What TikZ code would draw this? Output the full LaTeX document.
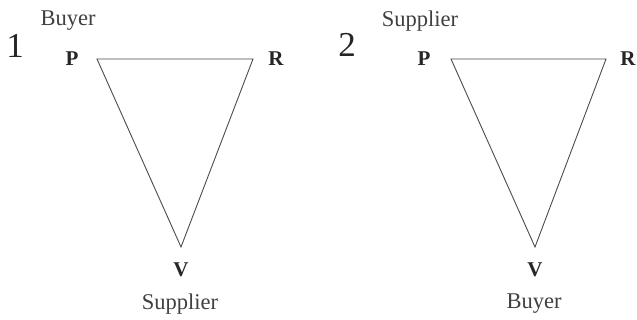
\documentclass[tikz,border=0pt]{standalone}
\usepackage{fontspec}
\setmainfont{Liberation Serif}
\begin{document}
\begin{tikzpicture}[x=1pt,y=-1pt,
  lbl/.style={inner sep=0pt,font=\fontsize{22.5}{22.5}\selectfont,text=black!75},
  vtx/.style={inner sep=0pt,font=\fontsize{21}{21}\selectfont\bfseries,text=black!85},
  num/.style={inner sep=0pt,font=\fontsize{35}{35}\selectfont,text=black!85},
  edge/.style={draw=black!70,line width=0.9pt}]
\useasboundingbox[fill=white] (0,0) rectangle (637,320);
% diagram 1
\coordinate (p1) at (97,59);
\coordinate (r1) at (253,59);
\coordinate (v1) at (181,247);
\draw[edge] (p1) -- (r1) -- (v1) -- cycle;
\node[num] (n1) at (15,46) {1};
\node[lbl] (b1) at (68,21) {Buyer};
\node[vtx] (P1) at (72,59) {P};
\node[vtx] (R1) at (276,59) {R};
\node[vtx] (V1) at (181,270) {V};
\node[lbl] (s1) at (180,304) {Supplier};
% diagram 2
\coordinate (p2) at (451,59);
\coordinate (r2) at (606,59);
\coordinate (v2) at (535,247);
\draw[edge] (p2) -- (r2) -- (v2) -- cycle;
\node[num] (n2) at (347,45) {2};
\node[lbl] (s2) at (420,21) {Supplier};
\node[vtx] (P2) at (424,59) {P};
\node[vtx] (R2) at (628,59) {R};
\node[vtx] (V2) at (535,270) {V};
\node[lbl] (b2) at (534,304) {Buyer};
\end{tikzpicture}
\end{document}
